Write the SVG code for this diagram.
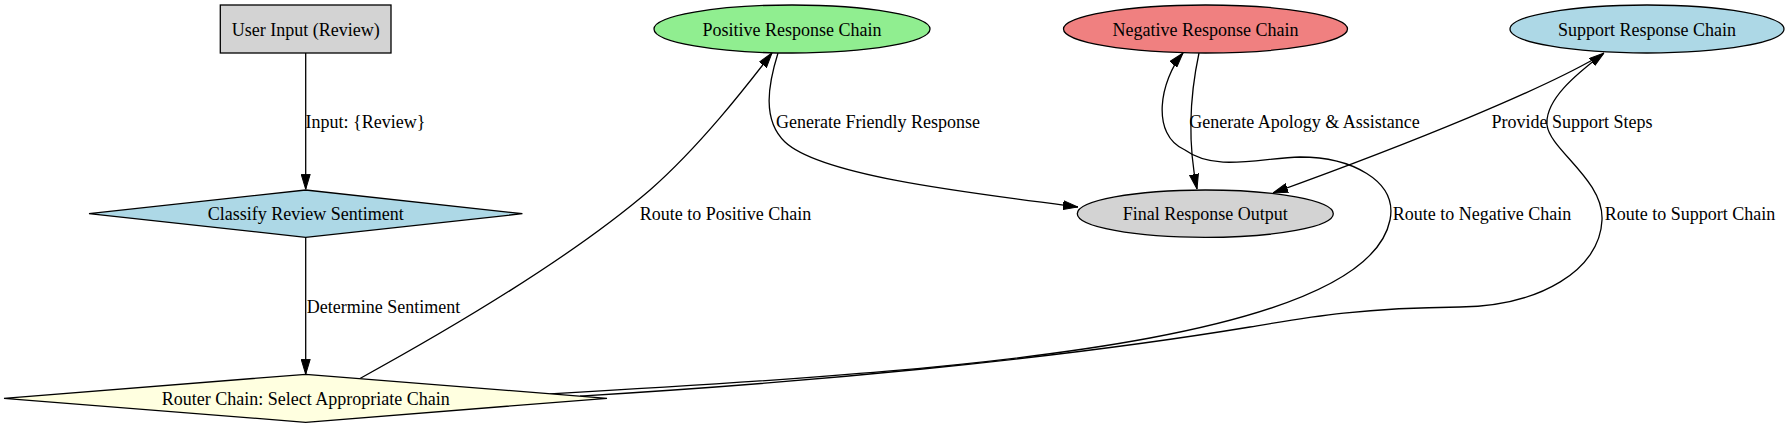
<svg xmlns="http://www.w3.org/2000/svg" width="1789" height="428" viewBox="0 0 1789 428">
<style>
.n{stroke:#000;stroke-width:1.3}
.t{font-family:"Liberation Serif","Times New Roman",serif;font-size:18px;fill:#000;text-anchor:middle}
.e{fill:none;stroke:#000;stroke-width:1.3;marker-end:url(#ah)}
</style>
<defs>
<marker id="ah" viewBox="0 0 15 10" refX="15" refY="5" markerWidth="15" markerHeight="10" markerUnits="userSpaceOnUse" orient="auto">
<path d="M0,0.5 L15,5 L0,9.5 z" fill="#000" stroke="#000" stroke-width="1"/>
</marker>
</defs>
<rect width="1789" height="428" fill="#fff"/>
<g id="connectors">
<path class="e" d="M305.7,53 L305.7,189.3"/>
<path class="e" d="M305.7,237.3 L305.7,374.3"/>
<path class="e" d="M360,378.5 C470,318 580,250 650,190 C700,146 745,88 772,53"/>
<path class="e" d="M778,53 C768,85 762,120 785,142 C820,175 960,192 1078,207"/>
<path class="e" d="M1199,53 C1190,95 1187,140 1197,189"/>
<path class="e" d="M1596,58 C1540,90 1420,140 1273,193"/>
<path class="e" d="M550,393.8 C800,380 1000,366 1150,338 C1300,310 1380,270 1390,220 C1398,180 1350,157 1300,157 C1260,158 1215,172 1185,150 C1150,135 1160,80 1183,53"/>
<path class="e" d="M580,396.1 C800,383 1050,360 1250,327 C1310,317 1360,308 1460,307 C1540,306 1600,270 1602,220 C1604,180 1550,150 1547,125 C1545,100 1575,75 1604,53"/>
<text class="t" x="365.5" y="128">Input: {Review}</text>
<text class="t" x="383.5" y="313">Determine Sentiment</text>
<text class="t" x="725.5" y="220">Route to Positive Chain</text>
<text class="t" x="878" y="128">Generate Friendly Response</text>
<text class="t" x="1304.5" y="128">Generate Apology &amp; Assistance</text>
<text class="t" x="1572" y="128">Provide Support Steps</text>
<text class="t" x="1482" y="220">Route to Negative Chain</text>
<text class="t" x="1690" y="220">Route to Support Chain</text>
</g>
<g id="user_input">
<rect class="n" x="220.3" y="5" width="170.7" height="48" fill="#d3d3d3"/>
<text class="t" x="305.7" y="35.5">User Input (Review)</text>
</g>
<g id="classify">
<polygon class="n" points="305.7,190 522.4,213.7 305.7,237.3 89,213.7" fill="#add8e6"/>
<text class="t" x="305.7" y="220">Classify Review Sentiment</text>
</g>
<g id="router">
<polygon class="n" points="305.7,374.3 607,398.3 305.7,422.3 4,398.3" fill="#ffffe0"/>
<text class="t" x="305.7" y="404.5">Router Chain: Select Appropriate Chain</text>
</g>
<g id="positive">
<ellipse class="n" cx="792" cy="29" rx="138" ry="24" fill="#90ee90"/>
<text class="t" x="792" y="35.5">Positive Response Chain</text>
</g>
<g id="negative">
<ellipse class="n" cx="1205.5" cy="29" rx="142" ry="24" fill="#f08080"/>
<text class="t" x="1205.5" y="35.5">Negative Response Chain</text>
</g>
<g id="support">
<ellipse class="n" cx="1647" cy="29" rx="137" ry="24" fill="#add8e6"/>
<text class="t" x="1647" y="35.5">Support Response Chain</text>
</g>
<g id="final">
<ellipse class="n" cx="1205.3" cy="213.7" rx="128" ry="23.7" fill="#d3d3d3"/>
<text class="t" x="1205.3" y="220">Final Response Output</text>
</g>
</svg>
